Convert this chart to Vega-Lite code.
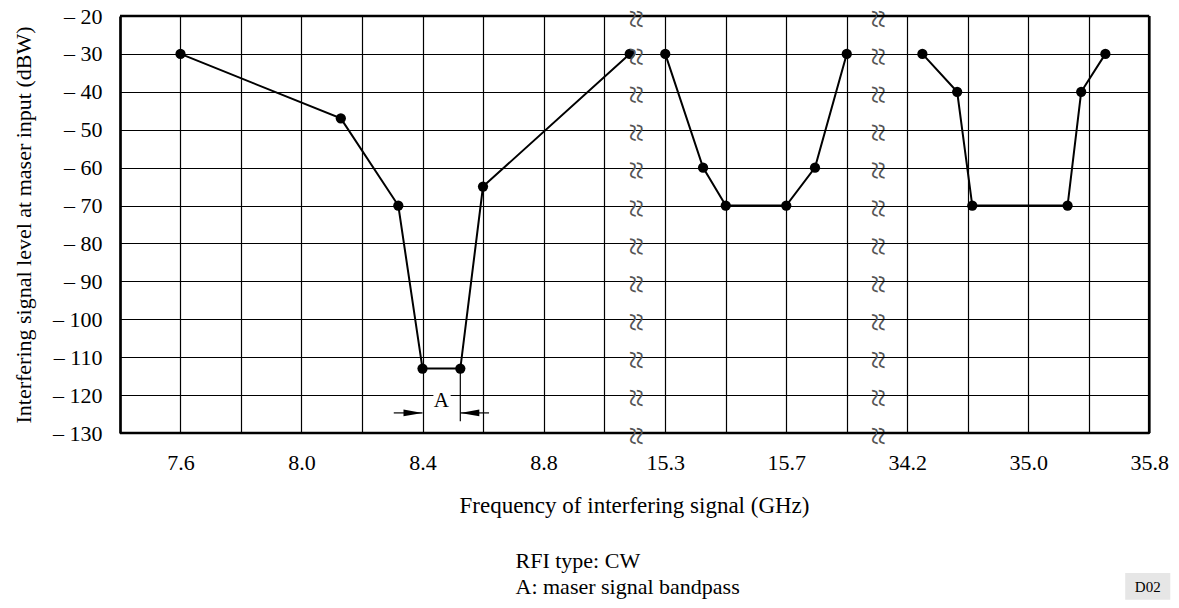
{
  "$schema": "https://vega.github.io/schema/vega-lite/v6.json",
  "padding": {"left": 12, "top": 5, "right": 5, "bottom": 5},
  "background": "white",
  "datasets": {
    "band1": [
      {"freq": 7.6, "level": -30},
      {"freq": 8.13, "level": -47},
      {"freq": 8.32, "level": -70},
      {"freq": 8.4, "level": -113},
      {"freq": 8.525, "level": -113},
      {"freq": 8.6, "level": -65},
      {"freq": 9.085, "level": -30}
    ],
    "band2": [
      {"freq": 15.3, "level": -30},
      {"freq": 15.425, "level": -60},
      {"freq": 15.5, "level": -70},
      {"freq": 15.7, "level": -70},
      {"freq": 15.795, "level": -60},
      {"freq": 15.9, "level": -30}
    ],
    "band3": [
      {"freq": 34.3, "level": -30},
      {"freq": 34.53, "level": -40},
      {"freq": 34.63, "level": -70},
      {"freq": 35.26, "level": -70},
      {"freq": 35.35, "level": -40},
      {"freq": 35.51, "level": -30}
    ],
    "levels": [
      {"level": -20}, {"level": -30}, {"level": -40}, {"level": -50},
      {"level": -60}, {"level": -70}, {"level": -80}, {"level": -90},
      {"level": -100}, {"level": -110}, {"level": -120}, {"level": -130}
    ],
    "one": [{}]
  },
  "spacing": 0,
  "bounds": "flush",
  "resolve": {
    "scale": {"x": "independent", "y": "independent"},
    "axis": {"x": "independent", "y": "independent"}
  },
  "hconcat": [
    {
      "width": 514.25,
      "height": 417,
      "layer": [
        {
          "data": {"name": "band1"},
          "mark": {"type": "line", "color": "black", "strokeWidth": 2},
          "encoding": {
            "x": {
              "field": "freq", "type": "quantitative",
              "scale": {"domain": [7.4, 9.1], "nice": false, "zero": false},
              "axis": {
                "values": [7.6, 7.8, 8.0, 8.2, 8.4, 8.6, 8.8, 9.0],
                "tickCount": 30,
                "labelExpr": "(datum.value == 7.6 || datum.value == 8 || datum.value == 8.4 || datum.value == 8.8) ? format(datum.value, '.1f') : ''",
                "grid": true, "ticks": false, "domain": false,
                "labelPadding": 19, "labelFlush": false, "labelOverlap": false,
                "title": ["RFI type: CW", "A: maser signal bandpass"],
                "titleFontSize": 22,
                "titleAlign": "left", "titleX": 395, "titleY": 134,
                "titleBaseline": "alphabetic", "titleLineHeight": 26
              }
            },
            "y": {
              "field": "level", "type": "quantitative",
              "scale": {"domain": [-130, -20], "nice": false, "zero": false},
              "axis": {
                "values": [-20, -30, -40, -50, -60, -70, -80, -90, -100, -110, -120, -130],
                "tickCount": 30,
                "labelExpr": "'– ' + abs(datum.value)",
                "grid": true, "ticks": false, "domain": true,
                "domainColor": "black", "domainWidth": 2.7,
                "labelPadding": 18, "labelOverlap": false,
                "title": "Interfering signal level at maser input (dBW)",
                "titleFontSize": 22,
                "titlePadding": 17
              }
            }
          }
        },
        {
          "data": {"name": "band1"},
          "mark": {"type": "circle", "size": 105, "color": "black", "opacity": 1},
          "encoding": {
            "x": {"field": "freq", "type": "quantitative"},
            "y": {"field": "level", "type": "quantitative"}
          }
        },
        {
          "data": {"name": "one"},
          "mark": {"type": "rule", "color": "black", "strokeWidth": 2.7},
          "encoding": {"y": {"datum": -20, "type": "quantitative"}}
        },
        {
          "data": {"name": "one"},
          "mark": {"type": "rule", "color": "black", "strokeWidth": 2.7},
          "encoding": {"y": {"datum": -130, "type": "quantitative"}}
        },
        {
          "data": {"name": "one"},
          "mark": {"type": "rect", "color": "white", "opacity": 1},
          "encoding": {
            "x": {"datum": 8.436, "type": "quantitative"},
            "x2": {"datum": 8.493},
            "y": {"datum": -118.6, "type": "quantitative"},
            "y2": {"datum": -123.3}
          }
        },
        {
          "data": {"name": "one"},
          "mark": {"type": "text", "text": "A", "fontSize": 21, "align": "center", "baseline": "middle", "color": "black"},
          "encoding": {
            "x": {"datum": 8.4625, "type": "quantitative"},
            "y": {"datum": -121.6, "type": "quantitative"}
          }
        },
        {
          "data": {"name": "one"},
          "mark": {"type": "rule", "color": "black", "strokeWidth": 1.2},
          "encoding": {
            "x": {"datum": 8.525, "type": "quantitative"},
            "y": {"datum": -113, "type": "quantitative"},
            "y2": {"datum": -126.9}
          }
        },
        {
          "data": {"name": "one"},
          "mark": {"type": "rule", "color": "black", "strokeWidth": 1.2},
          "encoding": {
            "x": {"datum": 8.305, "type": "quantitative"},
            "x2": {"datum": 8.4},
            "y": {"datum": -124.7, "type": "quantitative"}
          }
        },
        {
          "data": {"name": "one"},
          "mark": {"type": "rule", "color": "black", "strokeWidth": 1.2},
          "encoding": {
            "x": {"datum": 8.525, "type": "quantitative"},
            "x2": {"datum": 8.62},
            "y": {"datum": -124.7, "type": "quantitative"}
          }
        },
        {
          "data": {"name": "one"},
          "mark": {"type": "point", "shape": "M 0 0 L -2 -0.36 L -2 0.36 Z", "filled": true, "size": 361, "color": "black", "opacity": 1},
          "encoding": {
            "x": {"datum": 8.4, "type": "quantitative"},
            "y": {"datum": -124.7, "type": "quantitative"}
          }
        },
        {
          "data": {"name": "one"},
          "mark": {"type": "point", "shape": "M 0 0 L 2 -0.36 L 2 0.36 Z", "filled": true, "size": 361, "color": "black", "opacity": 1},
          "encoding": {
            "x": {"datum": 8.525, "type": "quantitative"},
            "y": {"datum": -124.7, "type": "quantitative"}
          }
        }
      ]
    },
    {
      "width": 242,
      "height": 417,
      "layer": [
        {
          "data": {"name": "band2"},
          "mark": {"type": "line", "color": "black", "strokeWidth": 2},
          "encoding": {
            "x": {
              "field": "freq", "type": "quantitative",
              "scale": {"domain": [15.2, 16.0], "nice": false, "zero": false},
              "axis": {
                "values": [15.3, 15.5, 15.7, 15.9],
                "tickCount": 30,
                "labelExpr": "(datum.value == 15.3 || datum.value == 15.7) ? format(datum.value, '.1f') : ''",
                "grid": true, "ticks": false, "domain": false,
                "labelPadding": 19, "labelFlush": false, "labelOverlap": false,
                "title": "Frequency of interfering signal (GHz)",
                "titleFontSize": 23,
                "titleAlign": "center", "titleX": -1, "titleY": 79,
                "titleBaseline": "alphabetic"
              }
            },
            "y": {
              "field": "level", "type": "quantitative",
              "scale": {"domain": [-130, -20], "nice": false, "zero": false},
              "axis": {
                "values": [-20, -30, -40, -50, -60, -70, -80, -90, -100, -110, -120, -130],
                "tickCount": 30,
                "grid": true, "ticks": false, "domain": false, "labels": false, "title": null
              }
            }
          }
        },
        {
          "data": {"name": "band2"},
          "mark": {"type": "circle", "size": 105, "color": "black", "opacity": 1},
          "encoding": {
            "x": {"field": "freq", "type": "quantitative"},
            "y": {"field": "level", "type": "quantitative"}
          }
        },
        {
          "data": {"name": "one"},
          "mark": {"type": "rule", "color": "black", "strokeWidth": 2.7},
          "encoding": {"y": {"datum": -20, "type": "quantitative"}}
        },
        {
          "data": {"name": "one"},
          "mark": {"type": "rule", "color": "black", "strokeWidth": 2.7},
          "encoding": {"y": {"datum": -130, "type": "quantitative"}}
        },
        {
          "data": {"name": "levels"},
          "mark": {"type": "text", "text": "≈", "angle": 90, "fontSize": 34, "dx": 3, "align": "center", "baseline": "middle", "color": "#555555"},
          "encoding": {
            "x": {"datum": 15.2, "type": "quantitative"},
            "y": {"field": "level", "type": "quantitative"}
          }
        },
        {
          "data": {"name": "levels"},
          "mark": {"type": "text", "text": "≈", "angle": 90, "fontSize": 34, "dx": 3, "align": "center", "baseline": "middle", "color": "#555555"},
          "encoding": {
            "x": {"datum": 16.0, "type": "quantitative"},
            "y": {"field": "level", "type": "quantitative"}
          }
        }
      ]
    },
    {
      "width": 272.25,
      "height": 417,
      "layer": [
        {
          "data": {"name": "band3"},
          "mark": {"type": "line", "color": "black", "strokeWidth": 2},
          "encoding": {
            "x": {
              "field": "freq", "type": "quantitative",
              "scale": {"domain": [34.0, 35.8], "nice": false, "zero": false},
              "axis": {
                "values": [34.2, 34.6, 35.0, 35.4, 35.8],
                "tickCount": 30,
                "labelExpr": "(datum.value == 34.2 || datum.value == 35 || datum.value == 35.8) ? format(datum.value, '.1f') : ''",
                "grid": true, "ticks": false, "domain": false,
                "labelPadding": 19, "labelFlush": false, "labelOverlap": false,
                "title": null
              }
            },
            "y": {
              "field": "level", "type": "quantitative",
              "scale": {"domain": [-130, -20], "nice": false, "zero": false},
              "axis": {
                "values": [-20, -30, -40, -50, -60, -70, -80, -90, -100, -110, -120, -130],
                "tickCount": 30,
                "grid": true, "ticks": false, "domain": false, "labels": false, "title": null
              }
            }
          }
        },
        {
          "data": {"name": "band3"},
          "mark": {"type": "circle", "size": 105, "color": "black", "opacity": 1},
          "encoding": {
            "x": {"field": "freq", "type": "quantitative"},
            "y": {"field": "level", "type": "quantitative"}
          }
        },
        {
          "data": {"name": "one"},
          "mark": {"type": "rule", "color": "black", "strokeWidth": 2.7},
          "encoding": {"y": {"datum": -20, "type": "quantitative"}}
        },
        {
          "data": {"name": "one"},
          "mark": {"type": "rule", "color": "black", "strokeWidth": 2.7},
          "encoding": {"y": {"datum": -130, "type": "quantitative"}}
        },
        {
          "data": {"name": "one"},
          "mark": {"type": "rule", "color": "black", "strokeWidth": 2.7},
          "encoding": {"x": {"datum": 35.8, "type": "quantitative"}}
        },
        {
          "data": {"name": "one"},
          "mark": {"type": "rect", "color": "#e6e6e6", "opacity": 1},
          "encoding": {
            "x": {"datum": 35.641, "type": "quantitative"},
            "x2": {"datum": 35.939},
            "y": {"datum": -166.9, "type": "quantitative"},
            "y2": {"datum": -174.0}
          }
        },
        {
          "data": {"name": "one"},
          "mark": {"type": "text", "text": "D02", "fontSize": 15, "align": "center", "baseline": "middle", "color": "black"},
          "encoding": {
            "x": {"datum": 35.79, "type": "quantitative"},
            "y": {"datum": -170.5, "type": "quantitative"}
          }
        }
      ]
    }
  ],
  "config": {
    "font": "Liberation Serif",
    "view": {"stroke": null},
    "text": {"font": "Liberation Serif"},
    "axis": {
      "labelFont": "Liberation Serif",
      "titleFont": "Liberation Serif",
      "labelFontSize": 22,
      "titleFontSize": 21,
      "titleFontWeight": "normal",
      "labelColor": "black",
      "titleColor": "black",
      "gridColor": "black",
      "gridOpacity": 1,
      "gridWidth": 1.2
    }
  }
}
